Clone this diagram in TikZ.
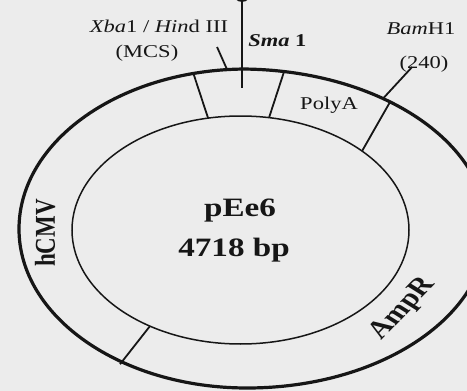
\documentclass[tikz,border=0pt]{standalone}
\usepackage{fontspec}
\setmainfont{Liberation Serif}
\definecolor{bg}{RGB}{236,236,236}
\definecolor{ink}{RGB}{22,22,22}
\begin{document}
\begin{tikzpicture}[x=0.8pt,y=-1pt,xscale=1.25,
  ring/.style={draw=ink, line width=3.2pt},
  core/.style={draw=ink, line width=1.5pt},
  bar/.style={draw=ink, line width=1.8pt},
  lbl/.style={transform shape, inner sep=0pt, text=ink, font=\fontsize{18}{20}\selectfont},
  big/.style={transform shape, inner sep=0pt, text=ink, font=\fontsize{26.5}{30}\selectfont\bfseries},
  side/.style={transform shape, inner sep=0pt, text=ink, font=\fontsize{23}{26}\selectfont\bfseries}]
\fill[bg] (0,0) rectangle (467,391);
\useasboundingbox (0,0) rectangle (467,391);
\clip (0,0) rectangle (467,391);

% backbone
\draw[ring] (240,69)
  arc[start angle=-90, end angle=0, x radius=247, y radius=160]
  arc[start angle=0, end angle=90, x radius=240, y radius=159]
  arc[start angle=90, end angle=180, x radius=228, y radius=159]
  arc[start angle=180, end angle=270, x radius=228, y radius=160] -- cycle;
\draw[core] (240.5,230) ellipse[x radius=168.5, y radius=114];

% divider end points
\coordinate (d1o) at (193,72.4);  \coordinate (d1i) at (208,118);
\coordinate (d2o) at (284,71.6);  \coordinate (d2i) at (269,117.6);
\coordinate (d3o) at (390,101.9); \coordinate (d3i) at (362,151);
\coordinate (d4o) at (120,364.2); \coordinate (d4i) at (150,326);
\draw[bar] (d1o) -- (d1i);
\draw[bar] (d2o) -- (d2i);
\draw[bar] (d3o) -- (d3i);
\draw[bar] (d4o) -- (d4i);

% site markers
\coordinate (smatop) at (242,1);  \coordinate (smabot) at (242,88);
\draw[bar] (242,-7) circle[radius=8];
\draw[bar] (smatop) -- (smabot);
\coordinate (xbaa) at (217,47);   \coordinate (xbab) at (227,69.5);
\draw[bar] (xbaa) -- (xbab);
\coordinate (bama) at (383,98.5); \coordinate (bamb) at (412,67);
\draw[bar] (bama) -- (bamb);

% labels
\node[lbl, anchor=base] (xba) at (159,32) {\textit{Xba}1 / \textit{Hin}d III};
\node[lbl, anchor=base] (mcs) at (147,57) {(MCS)};
\node[lbl, anchor=base west, font=\fontsize{18}{20}\selectfont\bfseries] (sma) at (248,46) {\textit{Sma} 1};
\node[lbl, anchor=base] (bam) at (421,34) {\textit{Bam}H1};
\node[lbl, anchor=base] (pos) at (424,68) {(240)};
\node[lbl, anchor=base] (polya) at (329,109) {PolyA};
\node[big, anchor=base] (nm) at (240,216) {pEe6};
\node[big, anchor=base] (sz) at (234,256) {4718 bp};
\node[side, rotate=90] (hcmv) at (45,233) {hCMV};
\node[side, rotate=52, font=\fontsize{25}{28}\selectfont\bfseries] (amp) at (403,309) {AmpR};
\end{tikzpicture}
\end{document}
